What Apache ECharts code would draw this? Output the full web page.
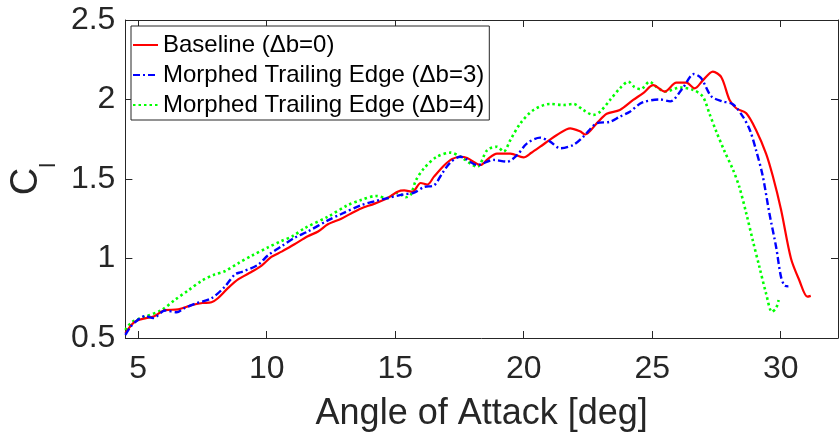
<!DOCTYPE html>
<html>
<head>
<meta charset="utf-8">
<script src="https://cdn.jsdelivr.net/npm/echarts@6/dist/echarts.min.js"></script>
<style>html,body{margin:0;padding:0;background:#fff;}#c{width:840px;height:440px;}</style>
</head>
<body>
<div id="c"></div>
<script>
const xTicks = [5, 10, 15, 20, 25, 30];
const seriesNames = ['Baseline (\u0394b=0)', 'Morphed Trailing Edge (\u0394b=3)', 'Morphed Trailing Edge (\u0394b=4)'];

const baseAoa = [4.5,4.75,4.95,5.3,5.6,6.04,6.56,7.08,7.5,7.85,8.1,8.5,8.9,9.4,9.8,10.18,10.6,11.08,11.6,12.0,12.38,12.9,13.3,13.67,14.2,14.7,15.09,15.35,15.67,15.99,16.25,16.51,16.9,17.2,17.54,17.8,18.32,18.6,18.96,19.48,19.99,20.3,20.64,21.0,21.29,21.81,22.19,22.39,22.84,23.23,23.74,24.26,24.65,25.04,25.49,25.94,26.33,26.65,26.97,27.36,27.69,28.01,28.27,28.66,29.04,29.43,29.69,30.01,30.4,30.72,31.04,31.17];
const baseCl  = [0.53,0.585,0.61,0.625,0.635,0.675,0.68,0.707,0.72,0.725,0.75,0.815,0.87,0.915,0.955,1.01,1.045,1.09,1.14,1.17,1.215,1.25,1.285,1.315,1.345,1.38,1.42,1.428,1.42,1.475,1.465,1.515,1.585,1.625,1.64,1.632,1.588,1.625,1.66,1.66,1.636,1.665,1.703,1.745,1.777,1.819,1.8,1.78,1.85,1.91,1.934,1.997,2.04,2.09,2.05,2.106,2.106,2.07,2.12,2.175,2.14,1.997,1.945,1.913,1.808,1.66,1.52,1.31,1.0,0.865,0.76,0.765];

const te3Aoa = [4.5,4.7,4.88,5.27,5.59,6.04,6.5,6.76,7.2,7.85,8.37,8.76,9.02,9.66,10.05,10.6,11.08,11.6,12.38,12.9,13.67,14.2,14.7,15.22,15.74,16.12,16.51,16.83,17.15,17.54,18.19,18.83,19.35,19.74,20.13,20.64,21.03,21.42,21.93,22.32,22.84,23.36,23.74,24.13,24.6,25.3,25.7,26.2,26.62,26.9,27.3,27.7,28.14,28.53,28.8,29.04,29.3,29.56,29.82,30.01,30.15,30.3];
const te3Cl  = [0.52,0.57,0.6,0.638,0.626,0.673,0.662,0.685,0.715,0.75,0.823,0.9,0.915,0.96,1.02,1.08,1.13,1.17,1.24,1.28,1.335,1.36,1.38,1.4,1.415,1.45,1.46,1.536,1.605,1.64,1.588,1.62,1.609,1.65,1.724,1.76,1.735,1.693,1.714,1.766,1.85,1.86,1.892,1.923,1.98,2.0,1.988,2.075,2.16,2.135,2.02,1.99,1.97,1.892,1.808,1.682,1.52,1.284,1.074,0.886,0.83,0.825];

const te4Aoa = [4.5,4.75,5.27,5.91,6.43,6.95,7.47,7.98,8.37,8.89,9.4,10.05,10.57,11.0,11.47,12.38,13.15,13.67,14.25,14.7,15.09,15.41,15.6,15.8,16.12,16.6,17.15,17.54,18.19,18.58,18.96,19.22,19.48,19.87,20.38,21.03,21.55,21.93,22.32,22.71,22.97,23.36,23.74,24.07,24.3,24.55,24.9,25.16,25.5,26.1,26.6,26.97,27.23,27.49,27.8,28.14,28.39,28.66,28.91,29.17,29.43,29.66,29.82,29.92];
const te4Cl  = [0.55,0.6,0.634,0.676,0.74,0.8,0.86,0.9,0.92,0.97,1.016,1.07,1.11,1.14,1.19,1.263,1.335,1.368,1.393,1.38,1.414,1.385,1.4,1.49,1.567,1.638,1.666,1.64,1.577,1.682,1.703,1.672,1.745,1.85,1.934,1.972,1.965,1.972,1.934,1.903,1.923,1.997,2.07,2.112,2.08,2.065,2.112,2.08,2.05,2.075,2.06,2.018,1.91,1.8,1.68,1.56,1.45,1.284,1.116,0.948,0.781,0.665,0.687,0.739];

function pairs(xs, ys) { return xs.map((x, i) => [x, ys[i]]); }

const FONT = 'Liberation Sans';
const AX = '#262626';
const chart = echarts.init(document.getElementById('c'), null, {renderer: 'canvas'});
const axisBase = {
  axisLine: {show: true, onZero: false, lineStyle: {color: AX, width: 1}},
  splitLine: {show: false}
};
chart.setOption({
  animation: false,
  backgroundColor: '#fff',
  grid: {left: 123, right: 2, top: 20, bottom: 102},
  legend: {
    orient: 'vertical', left: 131, top: 26,
    itemWidth: 25, itemHeight: 14, itemGap: 6,
    padding: [7, 5, 3, 1],
    backgroundColor: '#fff', borderColor: AX, borderWidth: 1, borderRadius: 0,
    itemStyle: {color: 'rgba(0,0,0,0)', borderColor: 'rgba(0,0,0,0)', borderWidth: 0, opacity: 0},
    textStyle: {fontSize: 24, fontFamily: FONT, color: '#000'},
    data: seriesNames
  },
  xAxis: [
    Object.assign({}, axisBase, {
      type: 'value', min: 4.5, max: 32.23, position: 'bottom',
      name: 'Angle of Attack [deg]', nameLocation: 'middle', nameGap: 58,
      nameTextStyle: {fontSize: 36, fontFamily: FONT, color: AX, verticalAlign: 'top'},
      axisTick: {show: true, inside: true, length: 7, lineStyle: {color: AX}, customValues: xTicks},
      axisLabel: {show: true, margin: 15, fontSize: 32, fontFamily: FONT, color: AX, customValues: xTicks}
    }),
    Object.assign({}, axisBase, {
      type: 'value', min: 4.5, max: 32.23, position: 'top',
      axisTick: {show: true, inside: true, length: 7, lineStyle: {color: AX}, customValues: xTicks},
      axisLabel: {show: false, customValues: xTicks}
    })
  ],
  yAxis: [
    Object.assign({}, axisBase, {
      type: 'value', min: 0.5, max: 2.5, interval: 0.5, position: 'left',
      name: '{c|C}{s|l}', nameLocation: 'middle', nameRotate: 90, nameGap: 60,
      nameTextStyle: {
        rich: {
          c: {fontSize: 38, fontFamily: FONT, color: AX},
          s: {fontSize: 22, fontFamily: FONT, color: AX, padding: [44, 0, 0, 0]}
        }
      },
      axisTick: {show: true, inside: true, length: 7, lineStyle: {color: AX}},
      axisLabel: {show: true, margin: 10, fontSize: 32, fontFamily: FONT, color: AX}
    }),
    Object.assign({}, axisBase, {
      type: 'value', min: 0.5, max: 2.5, interval: 0.5, position: 'right',
      axisTick: {show: true, inside: true, length: 7, lineStyle: {color: AX}},
      axisLabel: {show: false}
    })
  ],
  series: [
    {name: seriesNames[0], type: 'line', data: pairs(baseAoa, baseCl), symbol: 'none', smooth: 0.3,
     lineStyle: {color: '#ff0000', width: 2.2, type: 'solid'}, itemStyle: {color: '#ff0000'}, z: 3},
    {name: seriesNames[1], type: 'line', data: pairs(te3Aoa, te3Cl), symbol: 'none', smooth: 0.3,
     lineStyle: {color: '#0000ff', width: 2.4, type: [7, 3, 2, 3]}, itemStyle: {color: '#0000ff'}, z: 4},
    {name: seriesNames[2], type: 'line', data: pairs(te4Aoa, te4Cl), symbol: 'none', smooth: 0.3,
     lineStyle: {color: '#00ff00', width: 2.6, type: [2.5, 3], cap: 'butt'}, itemStyle: {color: '#00ff00'}, z: 2}
  ]
});
</script>
</body>
</html>
